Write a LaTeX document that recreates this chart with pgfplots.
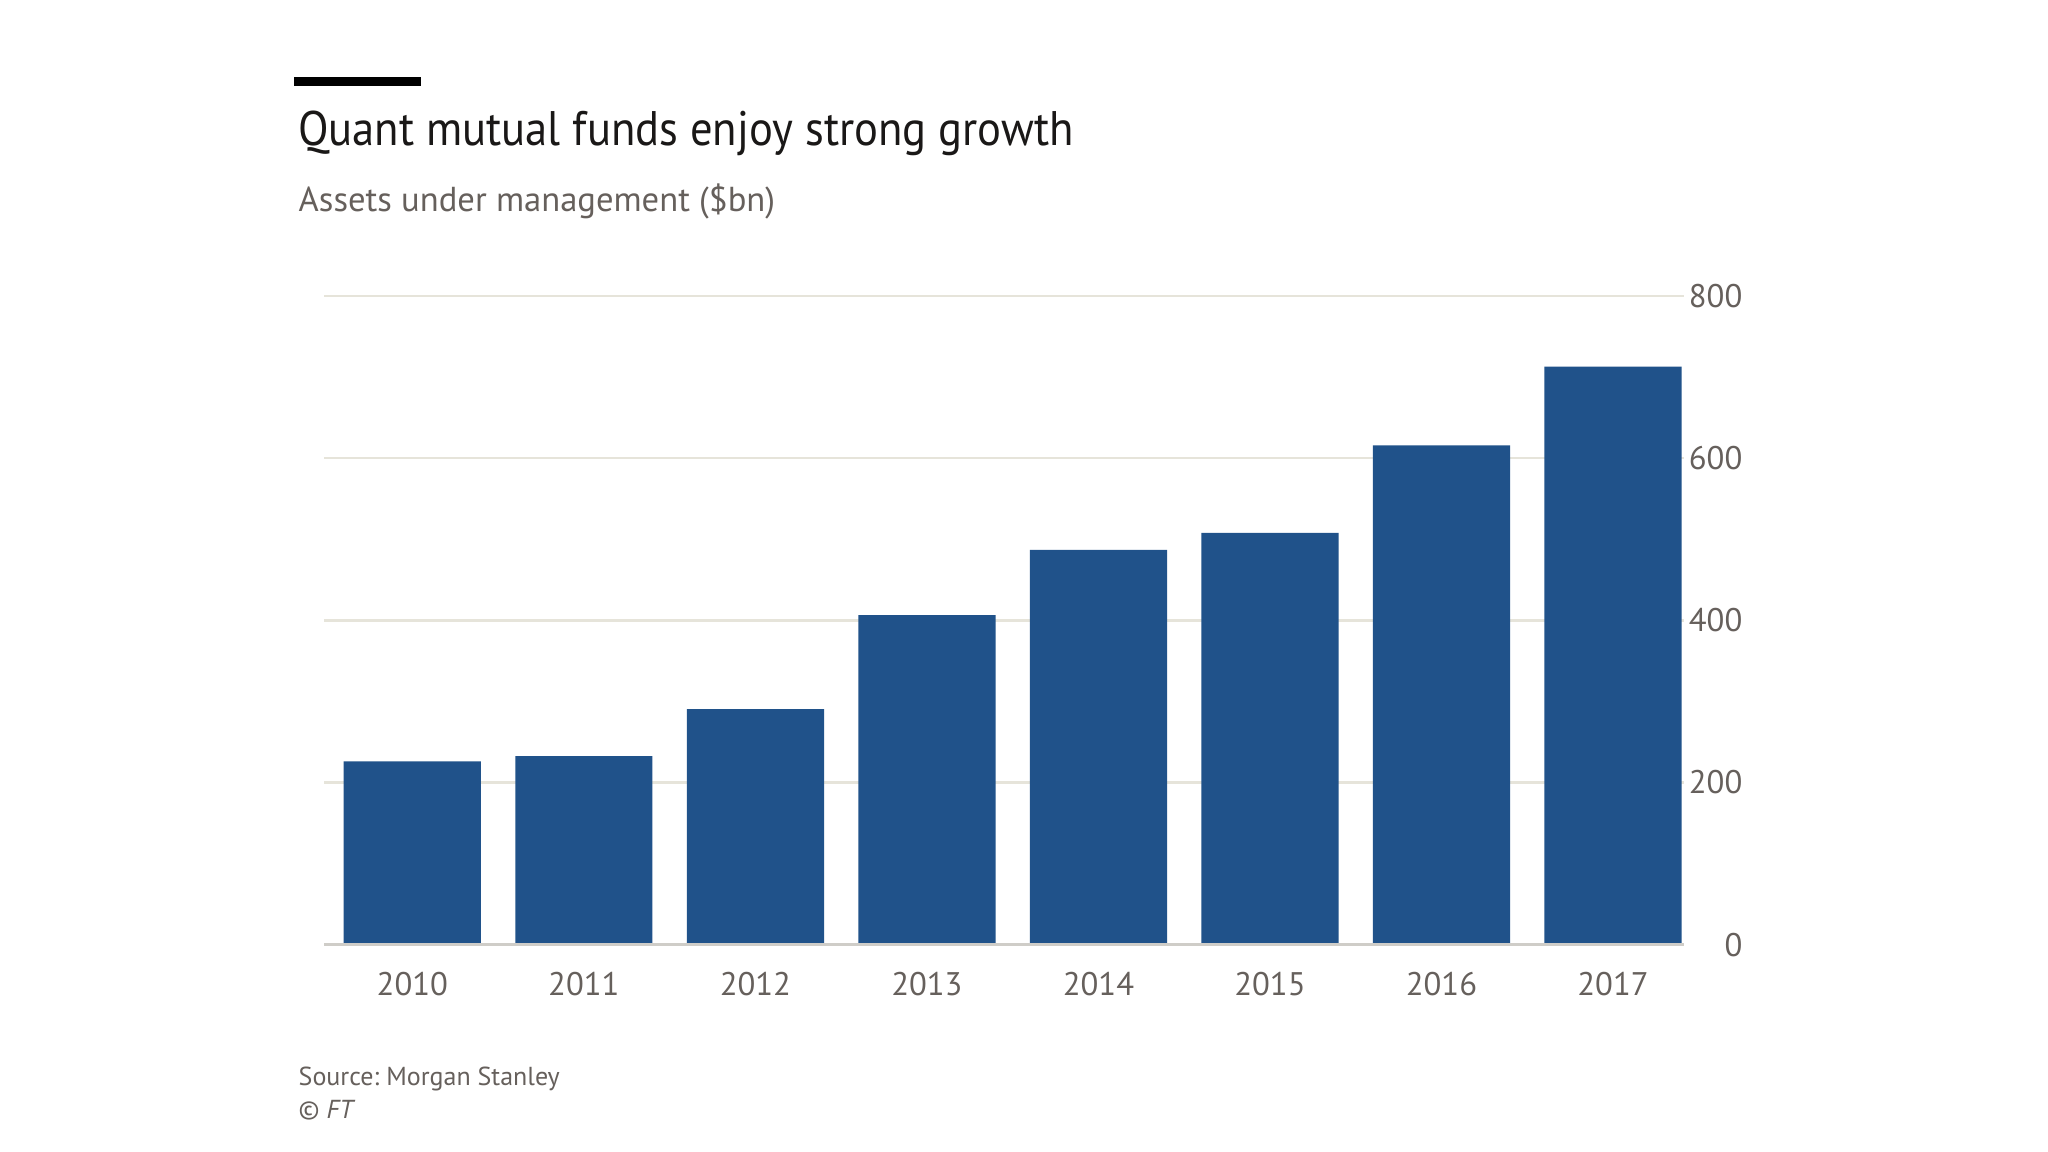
\documentclass[border=0pt]{standalone}
\usepackage{pgfplots}
\pgfplotsset{compat=1.18}
\usepackage{fontspec}
\setmainfont{PT Sans}
\newfontfamily\titlefont{PT Sans}[FakeStretch=0.92]
\frenchspacing
\definecolor{barblue}{HTML}{20528A}
\definecolor{gridc}{HTML}{E6E4DA}
\definecolor{basec}{HTML}{CFCDC8}
\definecolor{txtgray}{HTML}{66605C}
\definecolor{titlec}{HTML}{1A1817}
\pgfplotstableread{
x val
0 226
1 232.5
2 290.5
3 406.5
4 487
5 508
6 616
7 713
}\aumdata
\begin{document}
\begin{tikzpicture}
\path[use as bounding box, fill=white] (0,0) rectangle (20.48cm,11.52cm);
\fill[black] (2.94cm,10.66cm) rectangle (4.21cm,10.745cm);
\node[anchor=base west, inner sep=0pt, text=titlec, font=\titlefont\fontsize{13.8pt}{16pt}\selectfont] at (2.975cm,10.06cm) {Quant mutual funds enjoy strong growth};
\node[anchor=base west, inner sep=0pt, text=txtgray, font=\fontsize{9.85pt}{12pt}\selectfont] at (2.98cm,9.40cm) {Assets under management (\$bn)};
\begin{axis}[
  at={(3.24cm,2.073cm)}, anchor=south west,
  scale only axis, width=13.60cm, height=6.486cm,
  xmin=-0.515, xmax=7.414, ymin=0, ymax=800,
  axis line style={draw=none},
  ytick={0,200,400,600,800},
  ymajorgrids, major grid style={gridc, line width=0.65pt},
  yticklabel pos=right,
  yticklabel style={anchor=east, inner sep=0pt, xshift=0.59cm, text=txtgray, font=\fontsize{9.3pt}{11pt}\selectfont},
  /pgf/number format/assume math mode=true,
  xtick={0,...,7},
  xticklabels={2010,2011,2012,2013,2014,2015,2016,2017},
  xticklabel style={anchor=base, inner sep=0pt, yshift=-0.51cm, text=txtgray, font=\fontsize{9.3pt}{11pt}\selectfont},
  major tick length=0pt,
  clip=false,
]
\addplot[ybar, bar width=0.8, fill=barblue, draw=none, bar shift=0pt] table[x=x, y=val] {\aumdata};
\draw[basec, line width=0.75pt] (axis cs:-0.515,0) -- (axis cs:7.414,0);
\end{axis}
\node[anchor=base west, inner sep=0pt, text=txtgray, font=\fontsize{7.4pt}{9pt}\selectfont] at (2.98cm,0.66cm) {Source: Morgan Stanley};
\node[anchor=base west, inner sep=0pt, text=txtgray, font=\fontsize{7.4pt}{9pt}\selectfont] at (2.98cm,0.33cm) {\textcopyright{} \textit{FT}};
\end{tikzpicture}
\end{document}
